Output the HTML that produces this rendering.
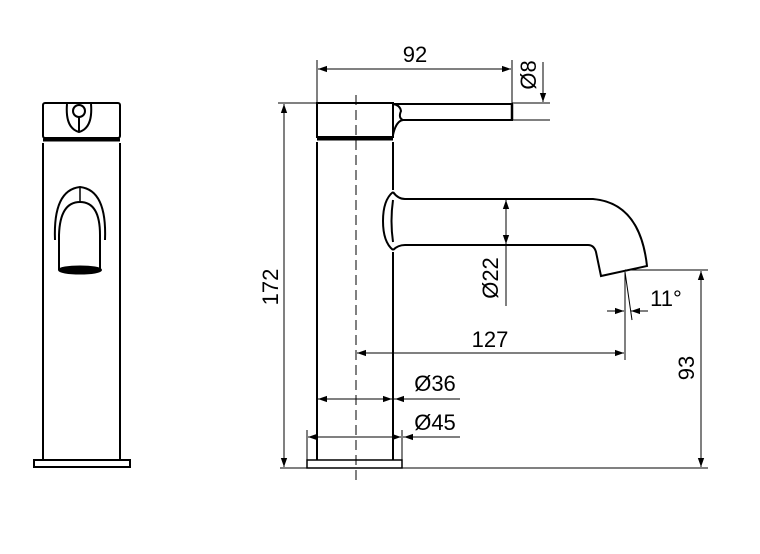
<!DOCTYPE html>
<html><head><style>body{margin:0;background:#fff}svg{display:block}</style></head><body>
<svg width="760" height="554" viewBox="0 0 760 554" xmlns="http://www.w3.org/2000/svg" font-family="Liberation Sans, sans-serif">
<defs>
<marker id="a" viewBox="0 0 10 10" refX="10" refY="5" markerWidth="9" markerHeight="9" orient="auto-start-reverse" markerUnits="userSpaceOnUse"><path d="M0,1.5L10,5L0,8.5z" fill="#000"/></marker>
</defs>
<g fill="none" stroke="#000" stroke-width="2">
<!-- left view -->
<rect x="43" y="103" width="77" height="35" rx="2"/>
<line x1="43" y1="140" x2="120" y2="140" stroke-width="3"/>
<path d="M43,143V460M120,143V460"/>
<rect x="34" y="460" width="96" height="7"/>
<path d="M67,104 Q65,128 79,132 Q93,128 91,104"/>
<circle cx="79" cy="111" r="6"/>
<path d="M79,117V132"/>
<path d="M55,240 Q53,190 80,187 Q107,190 105,240"/>
<path d="M59,270 V235 Q60,202 80,202 Q100,202 100,235 V270"/>
<path d="M80,187V202" stroke-width="1.5"/>
<ellipse cx="80" cy="270" rx="21" ry="3.5" fill="#000"/>
<!-- side view -->
<rect x="317" y="103" width="76" height="34"/>
<line x1="317" y1="139" x2="393" y2="139" stroke-width="3"/>
<path d="M317,142V460M393,142V190M393,252V460"/>
<path d="M393,104H512V120H403 Q396,121 393,135"/>
<path d="M393,104 Q400,105 401,111 Q398,118 403,120"/>
<path d="M512,104V120" stroke-width="2.5"/>
<path d="M393,192 Q383,200 383,221 Q383,242 393,250"/>
<path d="M393,192 Q398,199 405,199 H593 Q640,203 647,266 L601,276 L596,252 Q594,245 588,245 H405 Q398,245 393,250"/>
<path d="M393,200 Q390,221 393,242"/>
<rect x="307" y="460" width="95" height="8" stroke-width="1.5"/>
</g>
<g fill="none" stroke="#000" stroke-width="1">
<line x1="356" y1="95" x2="356" y2="482" stroke-dasharray="10,5"/>
<line x1="278" y1="103" x2="317" y2="103"/>
<line x1="280" y1="468" x2="708" y2="468"/>
<line x1="284" y1="104" x2="284" y2="467" marker-start="url(#a)" marker-end="url(#a)"/>
<line x1="317" y1="60" x2="317" y2="103"/>
<line x1="512" y1="60" x2="512" y2="103"/>
<line x1="318" y1="69" x2="511" y2="69" marker-start="url(#a)" marker-end="url(#a)"/>
<line x1="512" y1="103" x2="550" y2="103"/>
<line x1="512" y1="120" x2="550" y2="120"/>
<line x1="543" y1="62" x2="543" y2="102" marker-end="url(#a)"/>
<line x1="506" y1="200" x2="506" y2="244" marker-start="url(#a)" marker-end="url(#a)"/>
<line x1="506" y1="244" x2="506" y2="306"/>
<line x1="625" y1="270" x2="708" y2="270"/>
<line x1="625" y1="272" x2="625" y2="360"/>
<line x1="625" y1="272" x2="632" y2="320"/>
<line x1="607" y1="311" x2="624" y2="311" marker-end="url(#a)"/>
<line x1="648" y1="311" x2="631" y2="311" marker-end="url(#a)"/>
<line x1="357" y1="353" x2="624" y2="353" marker-start="url(#a)" marker-end="url(#a)"/>
<line x1="701" y1="271" x2="701" y2="467" marker-start="url(#a)" marker-end="url(#a)"/>
<line x1="318" y1="399" x2="392" y2="399" marker-start="url(#a)" marker-end="url(#a)"/>
<line x1="394" y1="399" x2="460" y2="399"/>
<line x1="407" y1="399" x2="395" y2="399" marker-end="url(#a)"/>
<line x1="307" y1="430" x2="307" y2="460"/>
<line x1="402" y1="430" x2="402" y2="460"/>
<line x1="308" y1="437" x2="401" y2="437" marker-start="url(#a)" marker-end="url(#a)"/>
<line x1="403" y1="437" x2="460" y2="437"/>
<line x1="416" y1="437" x2="404" y2="437" marker-end="url(#a)"/>
</g>
<g font-size="22" fill="#000" text-anchor="middle">
<text x="415" y="62">92</text>
<text x="490" y="347">127</text>
<text x="435" y="391">Ø36</text>
<text x="435" y="430">Ø45</text>
<text x="666" y="306">11°</text>
<text transform="translate(278,287) rotate(-90)">172</text>
<text transform="translate(536,75) rotate(-90)">Ø8</text>
<text transform="translate(498,278) rotate(-90)">Ø22</text>
<text transform="translate(694,368) rotate(-90)">93</text>
</g>
</svg>
</body></html>
